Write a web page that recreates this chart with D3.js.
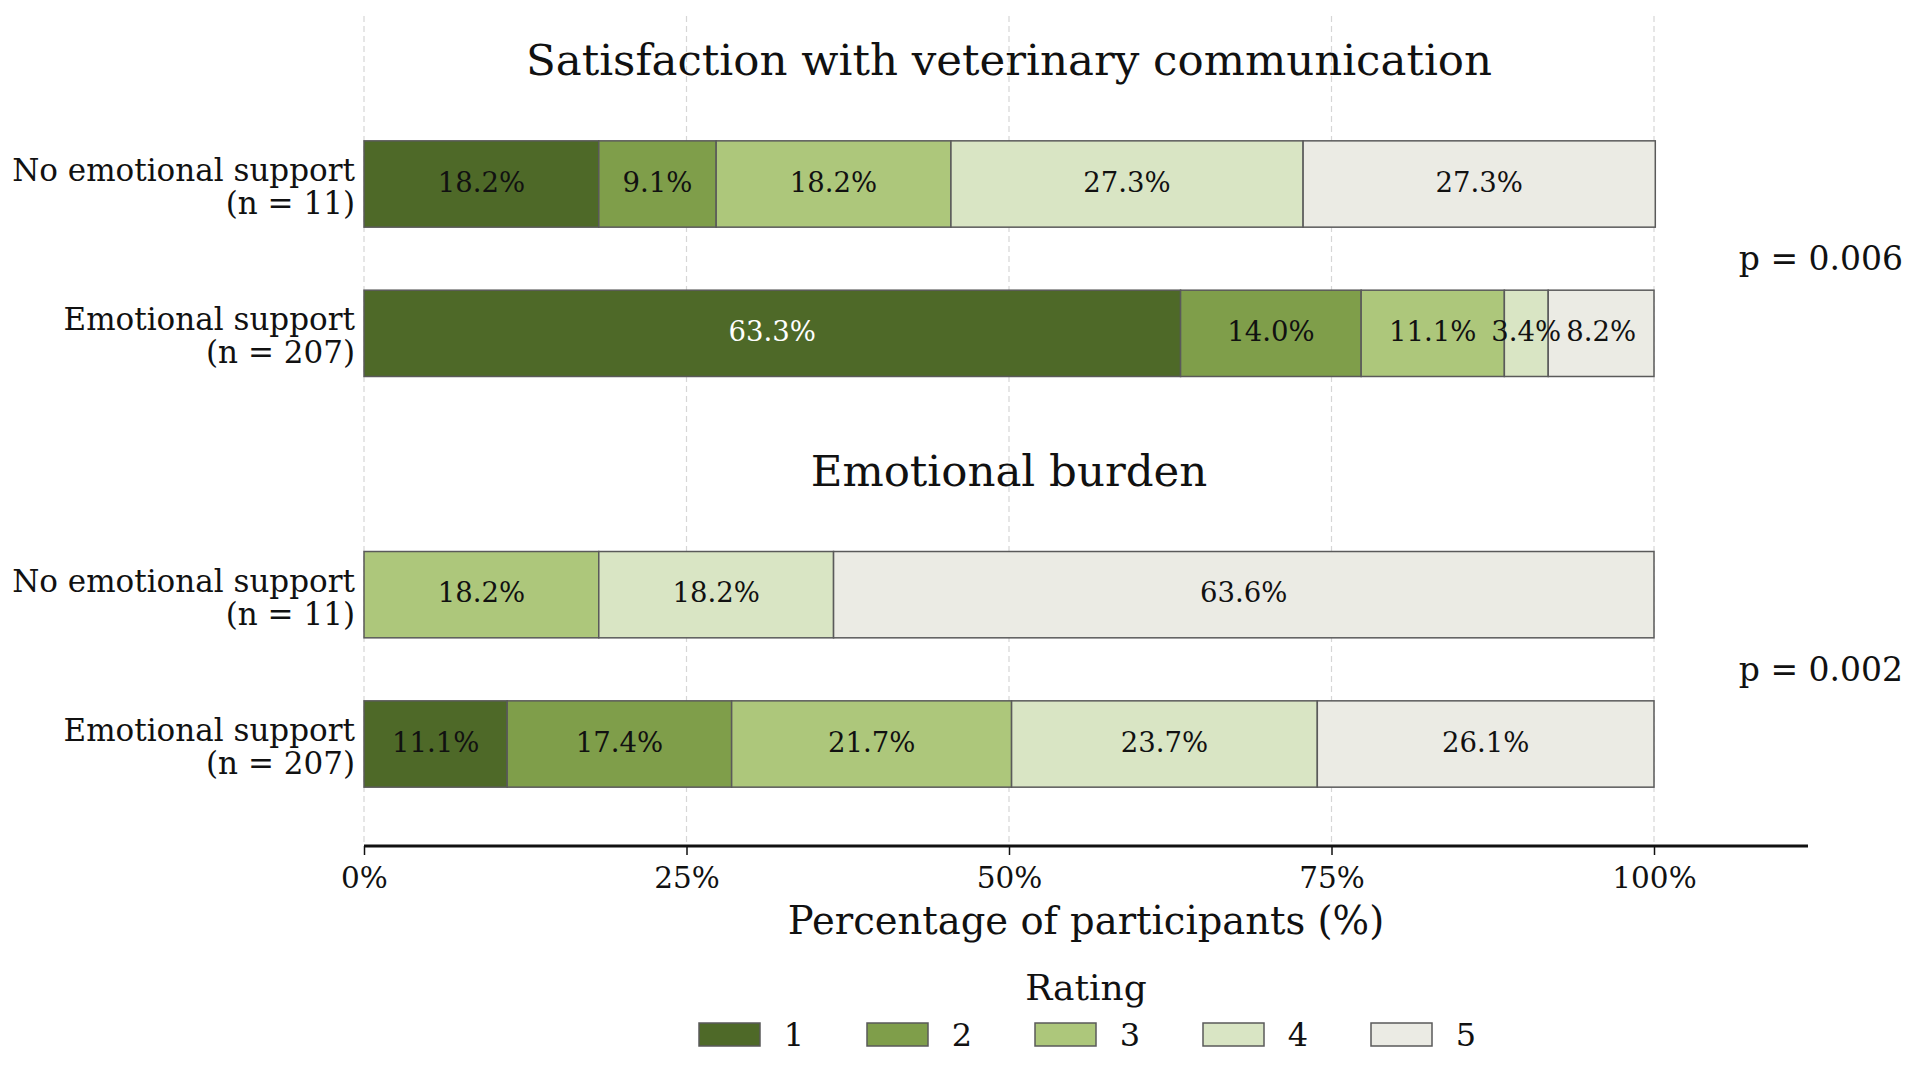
<!DOCTYPE html>
<html>
<head>
<meta charset="utf-8">
<script src="https://cdn.jsdelivr.net/npm/d3@7"></script>
<style>
  body { margin: 0; background: #fff; }
  svg text { font-family: "DejaVu Serif", serif; fill: #111; }
</style>
</head>
<body>
<svg></svg>
<script>
const w = 1922
const h = 1069

// data
const panels = ['Satisfaction with veterinary communication', 'Emotional burden']
const groups = ['No emotional support', 'Emotional support']
const groupN = ['(n = 11)', '(n = 207)']
const ratings = ['1', '2', '3', '4', '5']
const satisfaction = [
  [18.2, 9.1, 18.2, 27.3, 27.3],
  [63.3, 14.0, 11.1, 3.4, 8.2]
]
const burden = [
  [0, 0, 18.2, 18.2, 63.6],
  [11.1, 17.4, 21.7, 23.7, 26.1]
]
const pValues = ['p = 0.006', 'p = 0.002']
const xTicks = [0, 25, 50, 75, 100]
const colors = ['#4e6928', '#7f9e4a', '#adc77b', '#d9e5c4', '#ebebe4']

const svg = d3.select('svg')
  .attr('width', w)
  .attr('height', h);

const margin = {left: 364, right: 1654}
const axisY = 846

const xScale = d3.scaleLinear()
  .domain([0, 100])
  .range([margin.left, margin.right]);

// slot positions: group g, row r -> g*2.75 + r
const yScale = d3.scaleLinear()
  .domain([0, 3.75])
  .range([184, 744]);
const barH = yScale(0.578) - yScale(0);

// grid
svg.append('g').selectAll('line').data(xTicks)
  .enter().append('line')
  .attr('x1', d => xScale(d)).attr('x2', d => xScale(d))
  .attr('y1', 16).attr('y2', axisY)
  .attr('stroke', '#d6d6d6')
  .attr('stroke-width', 1.2)
  .attr('stroke-dasharray', '6,4');

const panelData = [satisfaction, burden]

panelData.forEach((panel, pi) => {
  const base = pi * 2.75

  svg.append('text')
    .attr('x', xScale(50))
    .attr('y', yScale(base) - 124)
    .attr('dy', '0.35em')
    .attr('text-anchor', 'middle')
    .attr('font-size', 43.5)
    .text(panels[pi]);

  panel.forEach((vals, ri) => {
    const cy = yScale(base + ri)
    let acc = 0
    const segs = vals.map((v, i) => {
      const s = {v, i, x0: acc, x1: acc + v}
      acc += v
      return s
    }).filter(s => s.v > 0)

    const g = svg.append('g')
    g.selectAll('rect').data(segs)
      .enter().append('rect')
      .attr('x', d => xScale(d.x0))
      .attr('width', d => xScale(d.x1) - xScale(d.x0))
      .attr('y', cy - barH / 2)
      .attr('height', barH)
      .attr('fill', d => colors[d.i])
      .attr('stroke', '#5a5a5a')
      .attr('stroke-width', 1.5);

    g.selectAll('text.val').data(segs)
      .enter().append('text')
      .attr('class', 'val')
      .attr('x', d => xScale((d.x0 + d.x1) / 2))
      .attr('y', cy - 2)
      .attr('dy', '0.35em')
      .attr('text-anchor', 'middle')
      .attr('font-size', 27.5)
      .style('fill', d => (d.i === 0 && d.v > 50) ? '#fff' : '#111')
      .text(d => d.v.toFixed(1) + '%');

    const lab = svg.append('text')
      .attr('text-anchor', 'end')
      .attr('font-size', 31)
    lab.append('tspan').attr('x', 355).attr('y', cy - 14).attr('dy', '0.35em').text(groups[ri])
    lab.append('tspan').attr('x', 355).attr('y', cy + 19).attr('dy', '0.35em').text(groupN[ri])
  })

  svg.append('text')
    .attr('x', 1903)
    .attr('y', (yScale(base) + yScale(base + 1)) / 2)
    .attr('dy', '0.35em')
    .attr('text-anchor', 'end')
    .attr('font-size', 33)
    .text(pValues[pi]);
})

// x axis
const xAxis = d3.axisBottom(xScale)
  .tickValues(xTicks)
  .tickFormat(d => d + '%')
  .tickSize(9)
  .tickPadding(12);

const xAxisG = svg.append('g')
  .attr('transform', `translate(0, ${axisY})`)
  .call(xAxis);
xAxisG.select('.domain').remove();
xAxisG.selectAll('line').attr('stroke', '#111').attr('stroke-width', 1.5);
xAxisG.selectAll('text')
  .attr('font-size', 29.5)
  .attr('font-family', '"DejaVu Serif", serif')
  .style('fill', '#111');

svg.append('line')
  .attr('x1', xScale(0)).attr('x2', 1808)
  .attr('y1', axisY).attr('y2', axisY)
  .attr('stroke', '#111')
  .attr('stroke-width', 3);

svg.append('text')
  .attr('x', 1086)
  .attr('y', 921)
  .attr('dy', '0.35em')
  .attr('text-anchor', 'middle')
  .attr('font-size', 38.5)
  .text('Percentage of participants (%)');

// legend
svg.append('text')
  .attr('x', 1086)
  .attr('y', 987)
  .attr('dy', '0.35em')
  .attr('text-anchor', 'middle')
  .attr('font-size', 36)
  .text('Rating');

const legend = svg.append('g').selectAll('g').data(ratings)
  .enter().append('g')
  .attr('transform', (d, i) => `translate(${699 + i * 168}, 1023)`);
legend.append('rect')
  .attr('width', 61).attr('height', 23)
  .attr('fill', (d, i) => colors[i])
  .attr('stroke', '#5a5a5a')
  .attr('stroke-width', 1.5);
legend.append('text')
  .attr('x', 95)
  .attr('y', 12)
  .attr('dy', '0.35em')
  .attr('text-anchor', 'middle')
  .attr('font-size', 32)
  .text(d => d);
</script>
</body>
</html>
